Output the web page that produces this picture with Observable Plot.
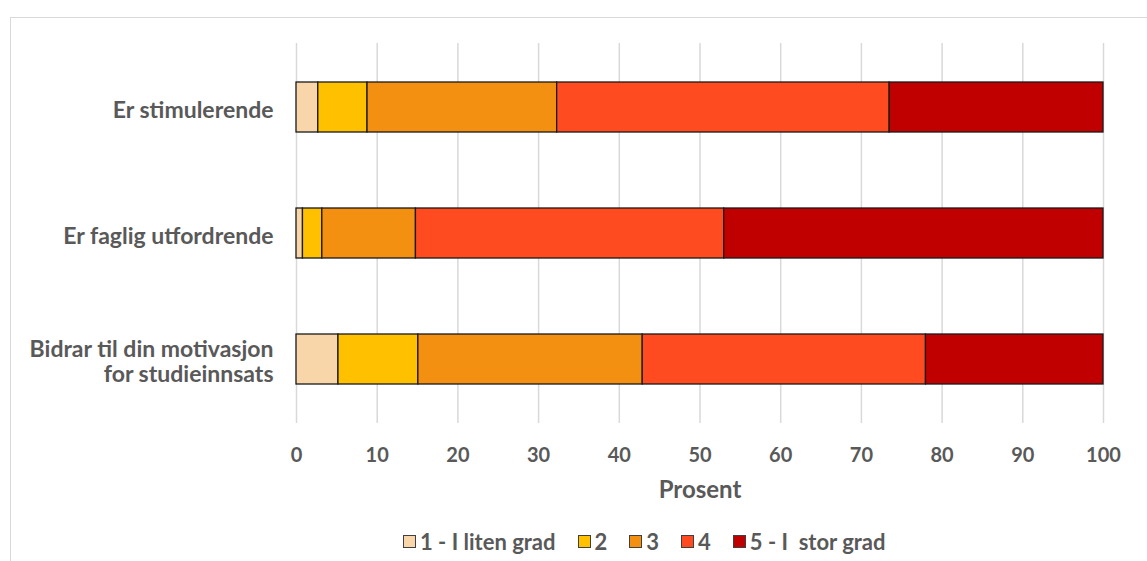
<!DOCTYPE html>
<html><head><meta charset="utf-8">
<script src="https://cdn.jsdelivr.net/npm/d3@7"></script>
<script src="https://cdn.jsdelivr.net/npm/@observablehq/plot@0.6"></script>
<style>
body{margin:0;background:#fff;font-family:Lato,"Open Sans",sans-serif}
#wrap{position:relative;width:1147px;height:561px;overflow:hidden;background:#fff}
#frame{position:absolute;left:10px;top:17px;width:1300px;height:700px;border-top:1.5px solid #d9d9d9;border-left:1.5px solid #d9d9d9;box-sizing:border-box}
#chart{position:absolute;left:0;top:0}
#legend{position:absolute;top:528px;left:403px;display:flex;align-items:center;font-size:22px;font-weight:bold;color:#595959;white-space:pre}
#legend .item{display:flex;align-items:center;margin-right:22px}
#legend .sw{width:13px;height:13px;border:1px solid #404040;box-sizing:border-box;margin-right:4px}
</style></head>
<body>
<div id="wrap"><div id="frame"></div><div id="chart"></div><div id="legend"></div></div>
<script>
const categories = ["Er stimulerende", "Er faglig utfordrende", "Bidrar til din motivasjon\nfor studieinnsats"];
const levels = ["1 - I liten grad", "2", "3", "4", "5 - I  stor grad"];
const colors = ["#F9D6AA", "#FFC000", "#F39012", "#FF4B1F", "#C00000"];
const s1 = [2.7, 0.8, 5.2];
const s2 = [6.1, 2.4, 9.9];
const s3 = [23.5, 11.6, 27.8];
const s4 = [41.2, 38.2, 35.1];
const s5 = [26.5, 47.0, 22.0];
const xTicks = [0, 10, 20, 30, 40, 50, 60, 70, 80, 90, 100];
const xLabel = "Prosent";

const series = [s1, s2, s3, s4, s5];
const data = [];
categories.forEach((c, i) => levels.forEach((l, j) => data.push({cat: c, level: l, value: series[j][i]})));

const chart = Plot.plot({
  width: 1147,
  height: 520,
  marginLeft: 296,
  marginRight: 44,
  marginTop: 43,
  marginBottom: 97,
  style: {fontFamily: "Lato, 'Open Sans', sans-serif", fontSize: "20px", fontWeight: "bold", color: "#595959", background: "transparent"},
  x: {domain: [0, 100], axis: null},
  y: {domain: categories, padding: 0, axis: null},
  color: {domain: levels, range: colors},
  marks: [
    Plot.gridX(xTicks, {stroke: "#d9d9d9", strokeOpacity: 1, strokeWidth: 1.5}),
    Plot.barX(data, Plot.stackX({x: "value", y: "cat", fill: "level", order: levels, insetTop: 38, insetBottom: 38, stroke: "#1a1a1a", strokeWidth: 1.3})),
    Plot.axisX(xTicks, {tickSize: 0, tickPadding: 24, fontSize: 20, fontWeight: "bold", label: null}),
    Plot.axisY({tickSize: 0, tickPadding: 23, fontSize: 23, fontWeight: "bold", lineHeight: 1.1, dy: 2, label: null}),
    Plot.text([xLabel], {frameAnchor: "bottom", dy: 74, fontSize: 24, fontWeight: "bold", fill: "#595959"})
  ]
});
document.getElementById("chart").appendChild(chart);

const leg = document.getElementById("legend");
levels.forEach((l, i) => {
  const it = document.createElement("div"); it.className = "item";
  const sw = document.createElement("div"); sw.className = "sw"; sw.style.background = colors[i];
  const t = document.createElement("span"); t.textContent = l;
  it.appendChild(sw); it.appendChild(t); leg.appendChild(it);
});
</script>
</body></html>
